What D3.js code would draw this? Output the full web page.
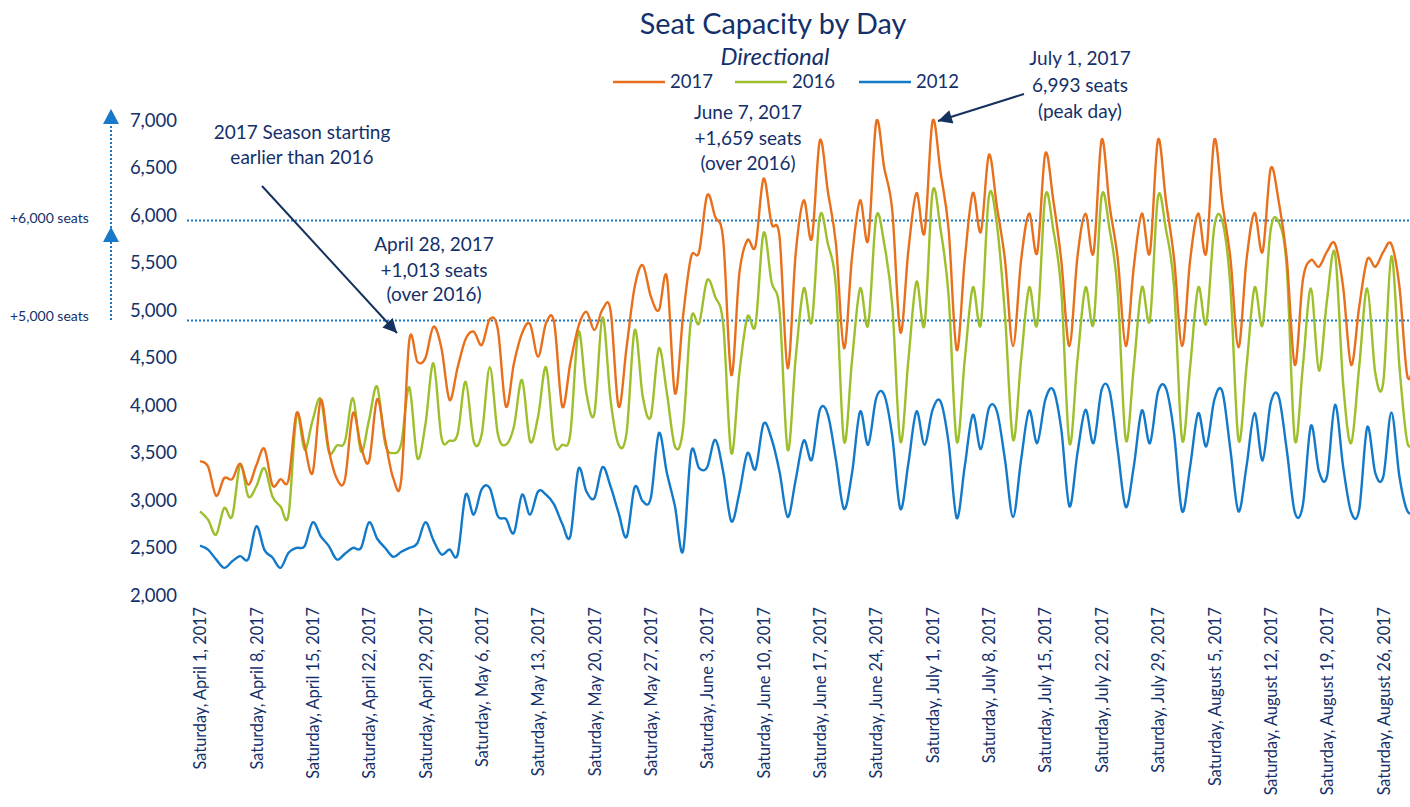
<!DOCTYPE html>
<html>
<head>
<meta charset="utf-8">
<script src="https://cdn.jsdelivr.net/npm/d3@7"></script>
<style>
body { margin: 0; background: #fff; }
svg { display: block; font-family: Lato, "Open Sans", sans-serif; }
</style>
</head>
<body>
<svg id="chart" width="1410" height="807"></svg>
<script>
// ---- data (daily seats, starting Saturday April 1, 2017) ----
var startDate = "2017-04-01";

var seats2017 = [
  3411,3358,3050,3236,3225,3387,3166,3370,3544,3160,
  3225,3218,3922,3580,3295,4059,3534,3230,3219,3919,
  3569,3411,4065,3639,3236,3219,4689,4461,4500,4829,
  4600,4059,4400,4700,4777,4637,4910,4800,3989,4444,
  4759,4857,4514,4870,4870,3989,4444,4829,4986,4794,
  5011,5000,3989,4620,5250,5477,5150,5003,5354,4129,
  4934,5564,5617,6212,5985,5740,4322,5390,5740,5677,
  6387,5915,5768,4392,5600,6160,5757,6790,6250,5700,
  4602,5565,6160,5740,6985,6500,6050,4770,5635,6237,
  5817,6993,6450,5850,4584,5530,6237,5827,6639,6090,
  5530,4626,5530,6020,5607,6650,6160,5520,4626,5565,
  6020,5607,6797,6100,5550,4626,5460,6020,5607,6797,
  6150,5550,4626,5530,6020,5607,6797,6130,5550,4612,
  5530,6027,5617,6492,6150,5550,4427,5320,5530,5460,
  5620,5700,5250,4427,5040,5537,5460,5617,5698,5250,
  4300,4550
];

var seats2016 = [
  2886,2798,2640,2921,2833,3376,3043,3150,3341,3043,
  2938,2851,3901,3534,3849,4066,3516,3580,3620,4077,
  3516,3850,4199,3600,3499,3600,4192,3447,3800,4444,
  3660,3630,3700,4251,3622,3700,4402,3700,3587,3779,
  4269,3622,3884,4402,3604,3587,3700,4777,4129,3919,
  4927,4059,3587,3720,4794,4094,3884,4602,4129,3569,
  3750,4907,4864,5319,5144,4850,3499,4339,4934,4847,
  5816,5300,5000,3534,4500,5232,4882,5992,5700,5250,
  3622,4479,5232,4847,5985,5700,5050,3622,4479,5302,
  4847,6247,5850,5150,3622,4479,5242,4857,6202,5900,
  4950,3639,4479,5242,4857,6202,5850,5200,3604,4479,
  5242,4864,6202,5850,5200,3639,4409,5242,4899,6195,
  5850,5250,3639,4409,5242,4864,5880,5940,5250,3639,
  4409,5242,4847,5850,5930,5450,3639,4409,5232,4367,
  5110,5600,4234,3604,4409,5232,4339,4252,5572,4409,
  3604,3700
];

var seats2012 = [
  2526,2483,2380,2291,2360,2414,2385,2729,2480,2400,
  2291,2450,2501,2520,2771,2624,2520,2379,2440,2501,
  2500,2771,2600,2500,2407,2460,2501,2550,2771,2580,
  2431,2484,2431,3061,2851,3120,3130,2834,2806,2659,
  3061,2851,3096,3060,2956,2755,2623,3331,3096,3026,
  3352,3148,2869,2617,3141,2991,3026,3709,3289,2939,
  2466,3506,3341,3350,3639,3300,2781,3079,3499,3331,
  3807,3650,3300,2827,3219,3632,3429,3954,3902,3429,
  2911,3289,3937,3587,4077,4112,3674,2911,3394,3937,
  3587,3954,4042,3604,2816,3359,3902,3541,3972,3937,
  3429,2827,3429,3947,3604,4059,4164,3744,2939,3499,
  3954,3604,4164,4150,3534,2932,3359,3947,3604,4140,
  4180,3709,2886,3359,3919,3569,4059,4147,3534,2886,
  3359,3919,3422,4024,4094,3534,2876,2950,3786,3307,
  3254,4007,3359,2876,2904,3772,3289,3254,3926,3250,
  2886,2900
];

var seriesNames = ["2017", "2016", "2012"];
var seriesColors = ["#e8701c", "#9cbf2b", "#1379c9"];

var yTicks = [2000, 2500, 3000, 3500, 4000, 4500, 5000, 5500, 6000, 6500, 7000];
var xTickDates = ["2017-04-01","2017-04-08","2017-04-15","2017-04-22","2017-04-29",
  "2017-05-06","2017-05-13","2017-05-20","2017-05-27","2017-06-03","2017-06-10",
  "2017-06-17","2017-06-24","2017-07-01","2017-07-08","2017-07-15","2017-07-22",
  "2017-07-29","2017-08-05","2017-08-12","2017-08-19","2017-08-26"];

// dotted reference levels and the left arrow marker
var refLevels = [5950, 4900];
var refLabels = ["+6,000 seats", "+5,000 seats"];
var arrowLevels = [7120, 5880];

// ---- setup ----
var parse = d3.timeParse("%Y-%m-%d");
var t0 = parse(startDate);
var dates = seats2017.map(function(d, i) { return d3.timeDay.offset(t0, i); });

var svg = d3.select("#chart");
var navy = "#14306a";

var x = d3.scaleTime()
    .domain([t0, d3.timeDay.offset(t0, 150)])
    .range([200, 1407.5]);
var y = d3.scaleLinear()
    .domain([2000, 7000])
    .range([595.5, 120.5]);

svg.append("rect").attr("width", 1410).attr("height", 807).attr("fill", "#fff");

// y labels (no axis line)
var yAxis = d3.axisLeft(y).tickValues(yTicks).tickFormat(d3.format(",")).tickSize(0).tickPadding(0);
var gy = svg.append("g").attr("transform", "translate(177,0)").call(yAxis);
gy.select(".domain").remove();
gy.selectAll("text").attr("fill", navy).style("font-size", "18.5px").style("font-family", "Lato");

// x labels, rotated
var xAxis = d3.axisBottom(x).tickValues(xTickDates.map(parse))
    .tickFormat(d3.timeFormat("%A, %B %-d, %Y")).tickSize(0);
var gx = svg.append("g").attr("transform", "translate(0,607)").call(xAxis);
gx.select(".domain").remove();
gx.selectAll("text")
    .attr("fill", navy)
    .style("font-size", "16.3px").style("font-family", "Lato")
    .attr("transform", "rotate(-90)")
    .attr("text-anchor", "end")
    .attr("x", 0).attr("y", 0).attr("dy", "0.35em");

// dotted reference lines
svg.append("g").selectAll("line").data(refLevels).enter().append("line")
    .attr("x1", 187).attr("x2", 1410)
    .attr("y1", function(d) { return Math.round(y(d)) + 0.5; })
    .attr("y2", function(d) { return Math.round(y(d)) + 0.5; })
    .attr("stroke", "#1a78c8").attr("stroke-width", 2.2)
    .attr("stroke-dasharray", "2,2");

svg.append("g").selectAll("text").data(refLabels).enter().append("text")
    .attr("x", 10).attr("y", function(d, i) { return y(refLevels[i]) - 2 - 2 * i; })
    .attr("dy", "0.35em")
    .attr("fill", navy).style("font-size", "14px")
    .text(function(d) { return d; });

// left dotted arrow
svg.append("line")
    .attr("x1", 111).attr("x2", 111)
    .attr("y1", y(refLevels[1])).attr("y2", y(arrowLevels[0]) + 10)
    .attr("stroke", "#1a78c8").attr("stroke-width", 2).attr("stroke-dasharray", "2,2");
arrowLevels.forEach(function(v) {
  var ty = y(v);
  svg.append("path")
    .attr("d", "M111," + ty + "L103," + (ty + 15) + "L119," + (ty + 15) + "Z")
    .attr("fill", "#1a78c8");
});

// series
var line = d3.line()
    .x(function(d) { return x(d[0]); })
    .y(function(d) { return y(d[1]); })
    .curve(d3.curveCatmullRom.alpha(0));

var allSeries = [seats2012, seats2016, seats2017];
var allColors = [seriesColors[2], seriesColors[1], seriesColors[0]];
allSeries.forEach(function(vals, k) {
  svg.append("path")
    .datum(vals.map(function(v, i) { return [dates[i], v]; }))
    .attr("d", line)
    .attr("fill", "none")
    .attr("stroke", allColors[k])
    .attr("stroke-width", 2.4)
    .attr("stroke-linejoin", "round");
});

// title
svg.append("text").attr("x", 773).attr("y", 34).attr("text-anchor", "middle")
    .attr("fill", navy).style("font-size", "28.8px").text("Seat Capacity by Day");
svg.append("text").attr("x", 775).attr("y", 65).attr("text-anchor", "middle")
    .attr("fill", navy).style("font-size", "24px").style("font-style", "italic").text("Directional");

// legend
var legX = [613, 735, 859];
seriesNames.forEach(function(name, i) {
  svg.append("line").attr("x1", legX[i]).attr("x2", legX[i] + 52)
    .attr("y1", 82).attr("y2", 82)
    .attr("stroke", seriesColors[i]).attr("stroke-width", 2.4);
  svg.append("text").attr("x", legX[i] + 57).attr("y", 82).attr("dy", "0.35em")
    .attr("fill", navy).style("font-size", "18.5px").text(name);
});

// annotations
function note(lines, cx, ys) {
  lines.forEach(function(s, i) {
    svg.append("text").attr("x", cx).attr("y", ys[i]).attr("dy", "0.35em")
      .attr("text-anchor", "middle").attr("fill", navy)
      .style("font-size", "19px").text(s);
  });
}
note(["2017 Season starting", "earlier than 2016"], 302, [132, 157]);
note(["April 28, 2017", "+1,013 seats", "(over 2016)"], 434, [244, 270, 294]);
note(["June 7, 2017", "+1,659 seats", "(over 2016)"], 748, [112, 138, 163]);
note(["July 1, 2017", "6,993 seats", "(peak day)"], 1080, [58, 85, 111]);

svg.append("defs").append("marker")
    .attr("id", "head").attr("viewBox", "0 0 10 10")
    .attr("refX", 10).attr("refY", 5)
    .attr("markerWidth", 8).attr("markerHeight", 7)
    .attr("markerUnits", "strokeWidth")
    .attr("orient", "auto")
  .append("path").attr("d", "M0,0L10,5L0,10Z").attr("fill", "#15325f");

svg.append("line").attr("x1", 262).attr("y1", 186).attr("x2", 397).attr("y2", 333)
    .attr("stroke", "#15325f").attr("stroke-width", 2).attr("marker-end", "url(#head)");
svg.append("line").attr("x1", 1024).attr("y1", 94).attr("x2", 938).attr("y2", 121)
    .attr("stroke", "#15325f").attr("stroke-width", 2).attr("marker-end", "url(#head)");
</script>
</body>
</html>
